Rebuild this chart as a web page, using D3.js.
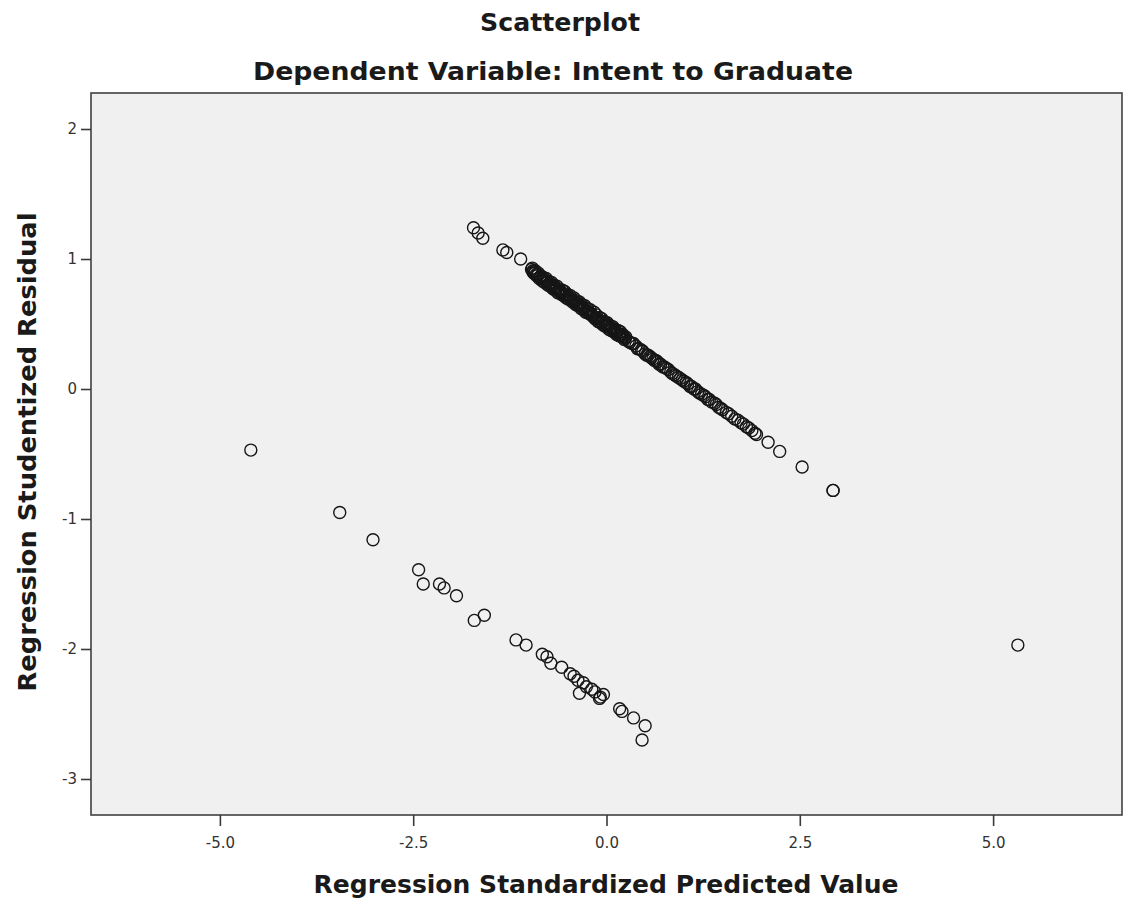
<!DOCTYPE html>
<html>
<head>
<meta charset="utf-8">
<script src="https://cdn.jsdelivr.net/npm/d3@7"></script>
<style>
  html, body { margin: 0; padding: 0; background: #ffffff; }
  svg { display: block; }
  text { font-family: "DejaVu Sans", "Liberation Sans", sans-serif; }
</style>
</head>
<body>
<script>
// Residual plot: standardized predicted value vs studentized residual
const title = "Scatterplot";
const subtitle = "Dependent Variable: Intent to Graduate";
const xLabel = "Regression Standardized Predicted Value";
const yLabel = "Regression Studentized Residual";

const xTicks = [-5, -2.5, 0, 2.5, 5];
const yTicks = [-3, -2, -1, 0, 1, 2];

// Cases on the upper band
const upperPred = [
  -1.72, -1.66, -1.60, -1.34, -1.29, -1.11,
  -0.97, -0.95, -0.95, -0.93, -0.91, -0.89, -0.86, -0.84, -0.81, -0.79, -0.77,
  -0.74, -0.72, -0.70, -0.67, -0.65, -0.62, -0.62, -0.60, -0.58, -0.55, -0.53,
  -0.50, -0.48, -0.46, -0.45, -0.43, -0.41, -0.38, -0.36, -0.34, -0.31, -0.29,
  -0.26, -0.24, -0.22, -0.20, -0.19, -0.17, -0.14, -0.12, -0.10, -0.07, -0.05,
  -0.02, 0.00, 0.00, 0.02, 0.05, 0.07, 0.10, 0.12, 0.14, 0.17, 0.18, 0.19,
  0.22, 0.24, 0.28, 0.33, 0.38, 0.42, 0.47, 0.50, 0.54, 0.58, 0.62, 0.66,
  0.70, 0.73, 0.77, 0.80, 0.85, 0.90, 0.95, 1.00, 1.05, 1.08, 1.13, 1.18,
  1.23, 1.28, 1.33, 1.36, 1.40, 1.45, 1.50, 1.55, 1.62, 1.70, 1.77, 1.84,
  1.92, 1.94, 2.09, 2.24, 2.53, 2.93, 2.93
];
const upperResid = [
  1.24, 1.20, 1.16, 1.07, 1.05, 1.00,
  0.92, 0.90, 0.91, 0.89, 0.88, 0.88, 0.86, 0.85, 0.84, 0.83, 0.82,
  0.81, 0.80, 0.79, 0.78, 0.77, 0.76, 0.76, 0.75, 0.74, 0.73, 0.72,
  0.71, 0.70, 0.69, 0.69, 0.68, 0.67, 0.66, 0.65, 0.64, 0.63, 0.62,
  0.60, 0.59, 0.59, 0.58, 0.57, 0.56, 0.55, 0.54, 0.53, 0.52, 0.51,
  0.50, 0.49, 0.50, 0.48, 0.47, 0.46, 0.45, 0.44, 0.43, 0.42, 0.42, 0.41,
  0.40, 0.39, 0.37, 0.35, 0.33, 0.31, 0.29, 0.27, 0.26, 0.24, 0.22, 0.21,
  0.19, 0.17, 0.16, 0.15, 0.12, 0.10, 0.08, 0.06, 0.04, 0.02, 0.00, -0.02,
  -0.04, -0.06, -0.08, -0.10, -0.11, -0.14, -0.16, -0.18, -0.21, -0.24, -0.27, -0.30,
  -0.34, -0.35, -0.41, -0.48, -0.60, -0.78, -0.78
];

// Further cases packed into the crowded stretch of the upper band
const upperDensePred = [
  -0.96, -0.94, -0.92, -0.90, -0.88, -0.87, -0.85, -0.83, -0.82, -0.80,
  -0.78, -0.76, -0.75, -0.73, -0.71, -0.69, -0.68, -0.66, -0.64, -0.63,
  -0.61, -0.59, -0.57, -0.56, -0.54, -0.52, -0.51, -0.49, -0.47, -0.44,
  -0.42, -0.40, -0.39, -0.37, -0.35, -0.33, -0.32, -0.30, -0.28, -0.27,
  -0.25, -0.23, -0.21, -0.18, -0.16, -0.15, -0.13, -0.11, -0.09, -0.08,
  -0.06, -0.04, -0.03, -0.01, 0.01, 0.03, 0.04, 0.06, 0.08, 0.09,
  0.11, 0.13, 0.15, 0.16, 0.18, 0.20, 0.21, 0.23, 0.25,
  0.30, 0.35, 0.40, 0.45, 0.52, 0.56, 0.60, 0.64, 0.68, 0.75,
  0.83, 0.88, 0.93, 0.98, 1.03, 1.10, 1.15, 1.20, 1.26, 1.31,
  1.42, 1.48, 1.58, 1.66, 1.74, 1.81, 1.88
];
const upperDenseResid = [
  0.93, 0.89, 0.91, 0.87, 0.89, 0.85, 0.87, 0.83, 0.86, 0.82,
  0.85, 0.80, 0.83, 0.79, 0.82, 0.77, 0.80, 0.76, 0.79, 0.74,
  0.77, 0.73, 0.76, 0.72, 0.75, 0.70, 0.73, 0.69, 0.72, 0.67,
  0.70, 0.65, 0.68, 0.64, 0.67, 0.62, 0.65, 0.61, 0.64, 0.59,
  0.62, 0.58, 0.61, 0.56, 0.59, 0.54, 0.57, 0.52, 0.55, 0.51,
  0.54, 0.49, 0.52, 0.48, 0.51, 0.46, 0.49, 0.45, 0.48, 0.44,
  0.46, 0.42, 0.45, 0.41, 0.44, 0.40, 0.42, 0.38, 0.40,
  0.36, 0.35, 0.31, 0.30, 0.26, 0.25, 0.23, 0.22, 0.19, 0.17,
  0.13, 0.11, 0.09, 0.07, 0.05, 0.02, 0.00, -0.03, -0.05, -0.08,
  -0.12, -0.15, -0.19, -0.23, -0.26, -0.29, -0.32
];

// Cases on the lower band, plus the isolated case at the far right
const lowerPred = [
  -4.60, -3.45, -3.02, -2.43, -2.37, -2.16, -2.10, -1.94, -1.71, -1.58,
  -1.17, -1.04, -0.83, -0.77, -0.72, -0.58, -0.47, -0.42, -0.37, -0.30,
  -0.35, -0.26, -0.19, -0.15, -0.08, -0.04, -0.09, 0.17, 0.20, 0.35,
  0.50, 0.46, 5.32
];
const lowerResid = [
  -0.47, -0.95, -1.16, -1.39, -1.50, -1.50, -1.53, -1.59, -1.78, -1.74,
  -1.93, -1.97, -2.04, -2.06, -2.11, -2.14, -2.19, -2.21, -2.24, -2.26,
  -2.34, -2.29, -2.31, -2.33, -2.37, -2.35, -2.38, -2.46, -2.48, -2.53,
  -2.59, -2.70, -1.97
];

const W = 1125, H = 902;
const plot = { left: 91, right: 1122, top: 93, bottom: 815 };

const svg = d3.select("body").append("svg")
  .attr("width", W).attr("height", H);

const x = d3.scaleLinear().domain([-6.667, 6.667]).range([plot.left, plot.right]);
const y = d3.scaleLinear().domain([-3.277, 2.277]).range([plot.bottom, plot.top]);

// Plot frame
svg.append("rect")
  .attr("x", plot.left).attr("y", plot.top)
  .attr("width", plot.right - plot.left)
  .attr("height", plot.bottom - plot.top)
  .attr("fill", "#f0f0f0")
  .attr("stroke", "#404040")
  .attr("stroke-width", 1.6);

// Axes
const fmtX = v => d3.format(".1f")(v).replace("\u2212", "-");
const fmtY = v => String(v);
const xAxis = d3.axisBottom(x).tickValues(xTicks).tickSize(11).tickSizeOuter(0).tickFormat(fmtX);
const yAxis = d3.axisLeft(y).tickValues(yTicks).tickSize(10).tickSizeOuter(0).tickFormat(fmtY);

const gx = svg.append("g").attr("transform", `translate(0,${plot.bottom})`).call(xAxis);
const gy = svg.append("g").attr("transform", `translate(${plot.left},0)`).call(yAxis);

[gx, gy].forEach(g => {
  g.select(".domain").remove();
  g.selectAll(".tick line").attr("stroke", "#3a3a3a").attr("stroke-width", 1.6);
  g.selectAll(".tick text")
    .attr("fill", "#333")
    .style("font-size", "15px");
});
gx.selectAll(".tick text").attr("dy", "1.25em");
gy.selectAll(".tick text").attr("x", -14);

// Points
const pts = upperPred.map((v, i) => ({ p: v, r: upperResid[i] }))
  .concat(upperDensePred.map((v, i) => ({ p: v, r: upperDenseResid[i] })))
  .concat(lowerPred.map((v, i) => ({ p: v, r: lowerResid[i] })));

svg.append("g").selectAll("circle")
  .data(pts)
  .join("circle")
  .attr("cx", d => x(d.p))
  .attr("cy", d => y(d.r))
  .attr("r", 6)
  .attr("fill", "none")
  .attr("stroke", "#161616")
  .attr("stroke-width", 1.4);

// Titles
const bold = sel => sel
  .attr("text-anchor", "middle")
  .attr("lengthAdjust", "spacingAndGlyphs")
  .style("font-size", "25px").style("font-weight", "bold")
  .attr("fill", "#1a1a1a");

svg.append("text").attr("x", 560).attr("y", 31)
  .attr("textLength", 160).call(bold).text(title);
svg.append("text").attr("x", 553).attr("y", 80)
  .attr("textLength", 600).call(bold).text(subtitle);

// Axis titles
svg.append("text").attr("x", 606).attr("y", 893)
  .attr("textLength", 585).call(bold).text(xLabel);
svg.append("text")
  .attr("transform", "translate(36,452) rotate(-90)")
  .attr("textLength", 479).call(bold).text(yLabel);
</script>
</body>
</html>
